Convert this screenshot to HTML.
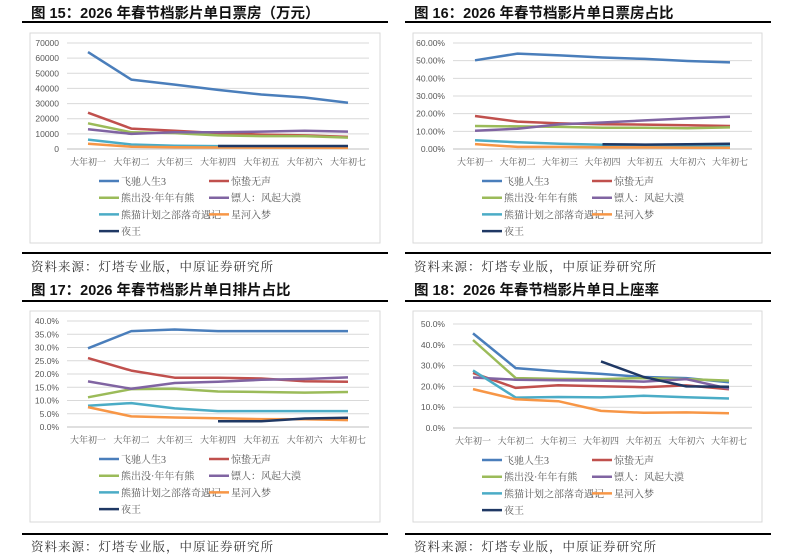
<!DOCTYPE html>
<html><head><meta charset="utf-8">
<style>
body{margin:0;background:#fff;width:798px;height:556px;overflow:hidden;position:relative;font-family:"Liberation Sans","Noto Sans CJK SC",sans-serif}
.title{position:absolute;font-weight:bold;font-size:14.5px;color:#111;font-family:"Liberation Sans","Noto Sans CJK SC",sans-serif}
.rule{position:absolute;height:2px;background:#000}
.src{position:absolute;font-size:12.5px;letter-spacing:1px;color:#333;font-family:"Liberation Serif","Noto Serif CJK SC",serif}
svg{position:absolute;left:0;top:0}
</style></head><body>
<div class="title" style="left:31px;top:2px">图 15：2026 年春节档影片单日票房（万元）</div>
<div class="title" style="left:414px;top:2px">图 16：2026 年春节档影片单日票房占比</div>
<div class="rule" style="left:22px;top:21px;width:366px"></div>
<div class="rule" style="left:405px;top:21px;width:366px"></div>
<div class="rule" style="left:22px;top:252px;width:366px"></div>
<div class="rule" style="left:405px;top:252px;width:366px"></div>
<div class="src" style="left:31px;top:257px">资料来源：灯塔专业版，中原证券研究所</div>
<div class="src" style="left:414px;top:257px">资料来源：灯塔专业版，中原证券研究所</div>
<div class="title" style="left:31px;top:279px">图 17：2026 年春节档影片单日排片占比</div>
<div class="title" style="left:414px;top:279px">图 18：2026 年春节档影片单日上座率</div>
<div class="rule" style="left:22px;top:300px;width:366px"></div>
<div class="rule" style="left:405px;top:300px;width:366px"></div>
<div class="rule" style="left:22px;top:533px;width:366px"></div>
<div class="rule" style="left:405px;top:533px;width:366px"></div>
<div class="src" style="left:31px;top:537px">资料来源：灯塔专业版，中原证券研究所</div>
<div class="src" style="left:414px;top:537px">资料来源：灯塔专业版，中原证券研究所</div>
<svg id="svg" width="798" height="556" xmlns="http://www.w3.org/2000/svg"></svg>
<script>
const categories=["大年初一","大年初二","大年初三","大年初四","大年初五","大年初六","大年初七"];
const seriesNames=["飞驰人生3","惊蛰无声","熊出没·年年有熊","镖人：风起大漠","熊猫计划之部落奇遇记","星河入梦","夜王"];
const colors=["#4a7ebb","#c0504d","#9bbb59","#8064a2","#4bacc6","#f79646","#1f3864"];
// Fig 15 box office (万元)
const c1_feichi=[64000,45800,42500,39000,36000,34000,30500];
const c1_jingzhe=[24000,13500,12000,10500,9500,9000,8000];
const c1_xiong=[17000,11000,10500,9000,8500,8500,7500];
const c1_biaoren=[13000,10000,11000,11000,11500,12000,11500];
const c1_panda=[6200,3000,2200,1900,1800,1700,1600];
const c1_xinghe=[3500,1500,1200,1000,900,800,700];
const c1_yewang=[null,null,null,2000,2000,2000,2000];
const c1_ticks=[0,10000,20000,30000,40000,50000,60000,70000];
const c1_tickLabels=["0","10000","20000","30000","40000","50000","60000","70000"];
// Fig 16 box office share (%)
const c2_feichi=[50.2,54,53,51.8,51,49.8,49];
const c2_jingzhe=[18.7,15.5,14.5,14,13.8,13.5,13];
const c2_xiong=[13,12.8,12.5,12,12,11.8,12.2];
const c2_biaoren=[10.3,11.5,14,15,16.2,17.3,18.2];
const c2_panda=[5,3.8,3,2.4,2.2,2.1,2];
const c2_xinghe=[2.8,1.2,1.2,1,0.9,0.8,0.7];
const c2_yewang=[null,null,null,2.7,2.5,2.7,3];
const c2_ticks=[0,10,20,30,40,50,60];
const c2_tickLabels=["0.00%","10.00%","20.00%","30.00%","40.00%","50.00%","60.00%"];
// Fig 17 screening share (%)
const c3_feichi=[29.7,36.2,36.8,36.2,36.2,36.2,36.2];
const c3_jingzhe=[26,21.3,18.6,18.6,18.3,17.3,17.1];
const c3_xiong=[11.2,14.3,14.4,13.4,13.2,13,13.2];
const c3_biaoren=[17.2,14.4,16.6,17.1,17.8,18.1,18.7];
const c3_panda=[8,9,7,6,6,6,6];
const c3_xinghe=[7.5,4,3.6,3.3,3,2.9,2.6];
const c3_yewang=[null,null,null,2.2,2.2,3.2,3.5];
const c3_ticks=[0,5,10,15,20,25,30,35,40];
const c3_tickLabels=["0.0%","5.0%","10.0%","15.0%","20.0%","25.0%","30.0%","35.0%","40.0%"];
// Fig 18 occupancy (%)
const c4_feichi=[45.5,28.8,27.2,26,24.5,24,22];
const c4_jingzhe=[26.5,19.3,20.6,20.1,19.6,20.5,18.6];
const c4_xiong=[42.3,24,23.6,23.5,24,23.5,22.8];
const c4_biaoren=[24.3,23.2,23,22.8,22.3,23.5,18.9];
const c4_panda=[27.7,14.6,14.9,14.7,15.5,14.8,14.2];
const c4_xinghe=[18.7,13.8,12.9,8.2,7.3,7.5,7.1];
const c4_yewang=[null,null,null,32,24.5,20,19.8];
const c4_ticks=[0,10,20,30,40,50];
const c4_tickLabels=["0.0%","10.0%","20.0%","30.0%","40.0%","50.0%"];

const NS="http://www.w3.org/2000/svg";
const svg=document.getElementById('svg');
function mk(tag,attrs,parent){const e=document.createElementNS(NS,tag);for(const k in attrs)e.setAttribute(k,attrs[k]);(parent||svg).appendChild(e);return e;}

function chart(id,box,plot,ticks,tickLabels,series){
  const g=mk('g',{});
  
  
  const fr=mk('rect',{x:box[0],y:box[1],width:box[2],height:box[3],fill:'#fff',stroke:'#d9d9d9','stroke-width':1},g);
  
  
  const [gx0,gx1,cx0,cx1,yTop,yBot]=plot;
  const maxV=ticks[ticks.length-1];
  const ys=v=>yBot-(v/maxV)*(yBot-yTop);
  const xs=i=>cx0+i*(cx1-cx0)/(categories.length-1);
  ticks.forEach((t,i)=>{
    const l=mk('line',{x1:gx0,x2:gx1,y1:ys(t),y2:ys(t),stroke:i==0?'#bfbfbf':'#d9d9d9','stroke-width':1},g);
    
    
    const tx=mk('text',{x:gx0-8,y:ys(t)+3,'text-anchor':'end','font-size':8.5,fill:'#595959','font-family':'Liberation Sans, sans-serif'},g);
    tx.textContent=tickLabels[i];
    
    
  });
  categories.forEach((c,i)=>{
    const tx=mk('text',{x:xs(i),y:yBot+16,'text-anchor':'middle','font-size':9,fill:'#595959','font-family':'Liberation Serif, Noto Serif CJK SC, serif'},g);
    tx.textContent=c;
    
    
  });
  series.forEach((vals,si)=>{
    let d='';let started=false;
    vals.forEach((v,i)=>{if(v==null)return;d+=(started?'L':'M')+xs(i).toFixed(1)+' '+ys(v).toFixed(1);started=true;});
    const p=mk('path',{d:d,fill:'none',stroke:colors[si],'stroke-width':2.5,'stroke-linejoin':'round'},g);
    
    
  });
  const lx1=box[0]+69, lx2=box[0]+179, ly0=yBot+32, ldy=16.7;
  seriesNames.forEach((n,i)=>{
    const col=i%2, row=Math.floor(i/2);
    const x=col?lx2:lx1, y=ly0+row*ldy;
    const le=mk('g',{},g);
    
    
    mk('line',{x1:x,x2:x+20,y1:y,y2:y,stroke:colors[i],'stroke-width':2.5},le);
    const t=mk('text',{x:x+22,y:y+4,'font-size':10,fill:'#595959','font-family':'Liberation Serif, Noto Serif CJK SC, serif'},le);
    t.textContent=n;
  });
}
chart('chart-fig15-box-office',[30,33,350,210],[67,369,88,348,43,149],c1_ticks,c1_tickLabels,[c1_feichi,c1_jingzhe,c1_xiong,c1_biaoren,c1_panda,c1_xinghe,c1_yewang]);
chart('chart-fig16-box-office-share',[413,33,349,210],[453,752,475,730,43,149],c2_ticks,c2_tickLabels,[c2_feichi,c2_jingzhe,c2_xiong,c2_biaoren,c2_panda,c2_xinghe,c2_yewang]);
chart('chart-fig17-screening-share',[30,311,350,211],[67,369,88,348,321,427],c3_ticks,c3_tickLabels,[c3_feichi,c3_jingzhe,c3_xiong,c3_biaoren,c3_panda,c3_xinghe,c3_yewang]);
chart('chart-fig18-occupancy',[413,311,349,211],[453,752,473,729,324,428],c4_ticks,c4_tickLabels,[c4_feichi,c4_jingzhe,c4_xiong,c4_biaoren,c4_panda,c4_xinghe,c4_yewang]);
</script>
</body></html>
